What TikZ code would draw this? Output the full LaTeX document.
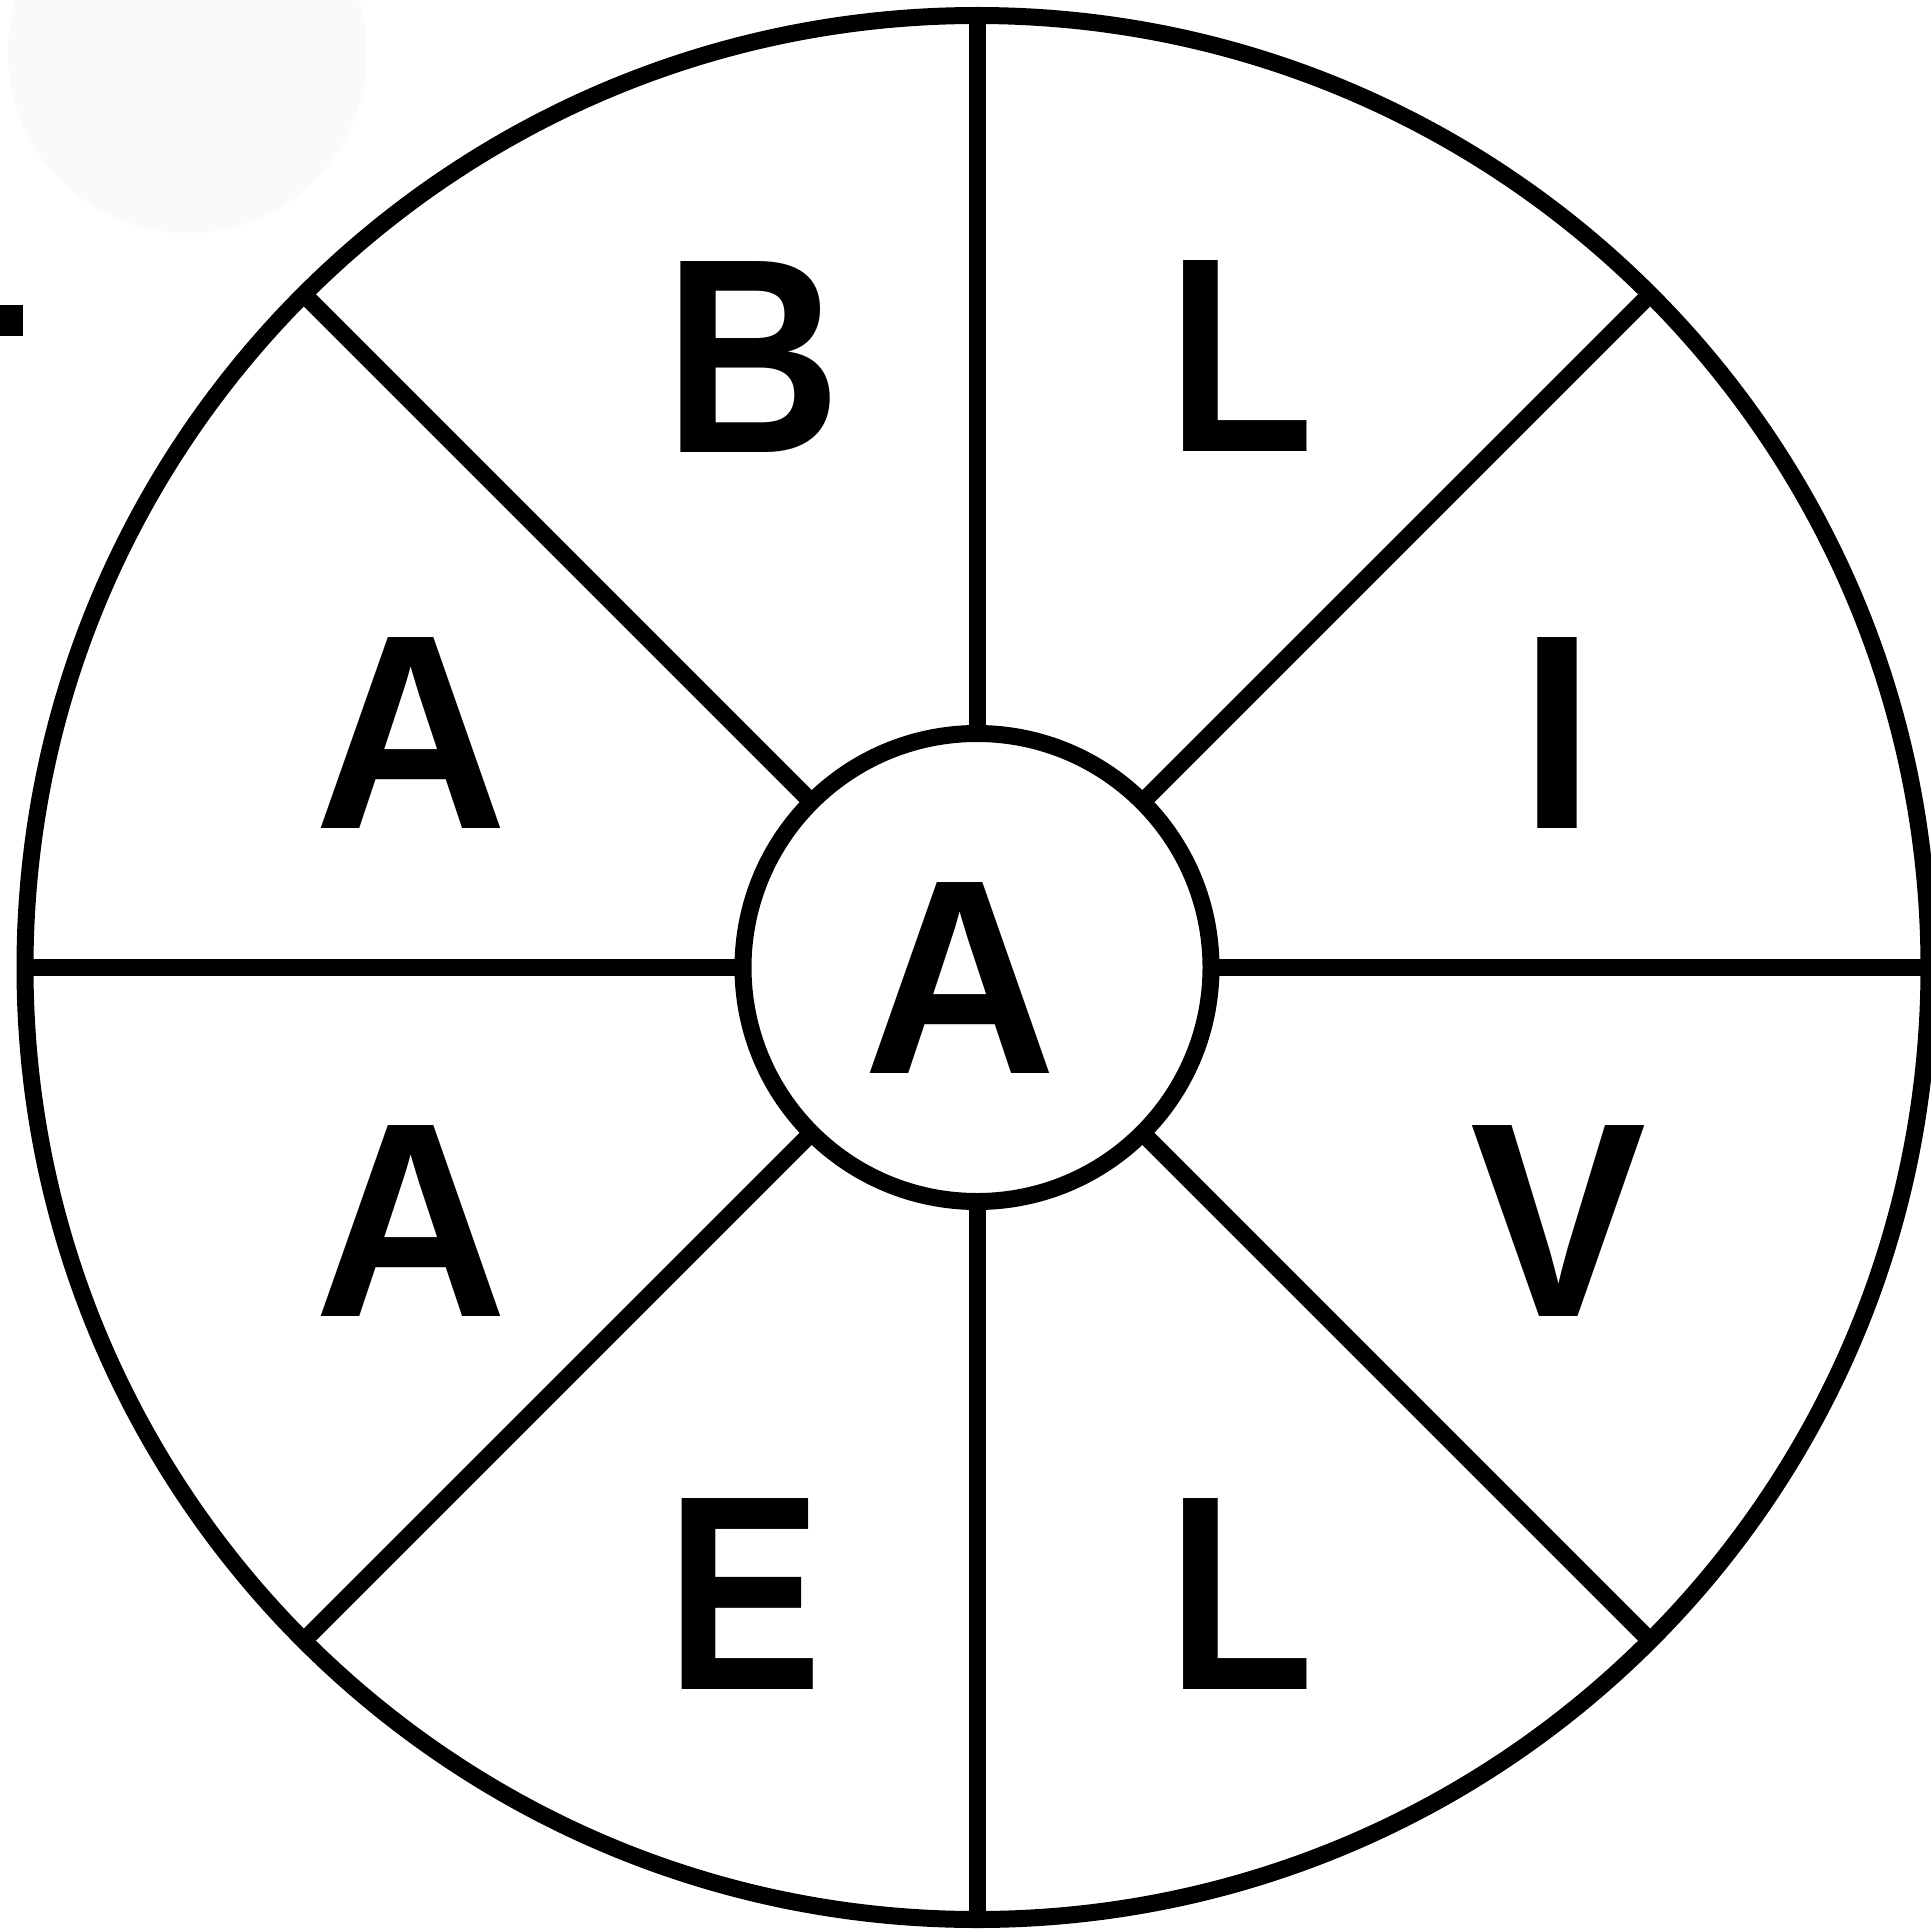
\documentclass[tikz,border=0pt]{standalone}
\usepackage{fontspec}
\usepackage{graphicx}
\setmainfont{Liberation Sans}
\definecolor{ghost}{HTML}{FAFAFA}
\tikzset{
  ring/.style={circle, draw=black, line width=17pt, outer sep=0pt, inner sep=0pt},
  spoke/.style={draw=black, line width=17pt, line cap=butt},
  letter/.style={inner sep=0pt, outer sep=0pt, anchor=center, font=\fontsize{277.6}{300}\selectfont\bfseries}
}
\newcommand{\lt}[2]{\scalebox{#1}[1]{#2}}
\begin{document}
\begin{tikzpicture}[x=1pt,y=-1pt]
\useasboundingbox (0,0) rectangle (1931,1929);
\clip (0,0) rectangle (1931,1929);
\fill[white] (0,0) rectangle (1931,1929);
% faint ghost circle
\fill[ghost] (187.5,53.5) circle[radius=179.5];
% small black square at the left edge
\fill[black] (0,305) rectangle (23,336);
% wheel
\node[ring, minimum size=1904pt] (outer) at (977,967.5) {};
\node[ring, minimum size=468pt] (inner) at (977,967.5) {};
\foreach \a in {0,45,...,315} {
  \draw[spoke] (inner.\a) -- (outer.\a);
}
% letters
\node[letter] (b)  at (753,357)     {\lt{0.882}{B}};
\node[letter] (l1) at (1241,356)    {\lt{0.866}{L}};
\node[letter] (a1) at (411,733)     {\lt{0.964}{A}};
\node[letter] (i)  at (1557.5,733.5) {\lt{0.984}{I}};
\node[letter] (ac) at (960.5,977.5) {\lt{0.964}{A}};
\node[letter] (a2) at (411,1221)    {\lt{0.964}{A}};
\node[letter] (v)  at (1558.5,1221) {\lt{0.951}{V}};
\node[letter] (e)  at (744,1593.5)  {\lt{0.842}{E}};
\node[letter] (l2) at (1241,1593.5) {\lt{0.866}{L}};
\end{tikzpicture}
\end{document}
